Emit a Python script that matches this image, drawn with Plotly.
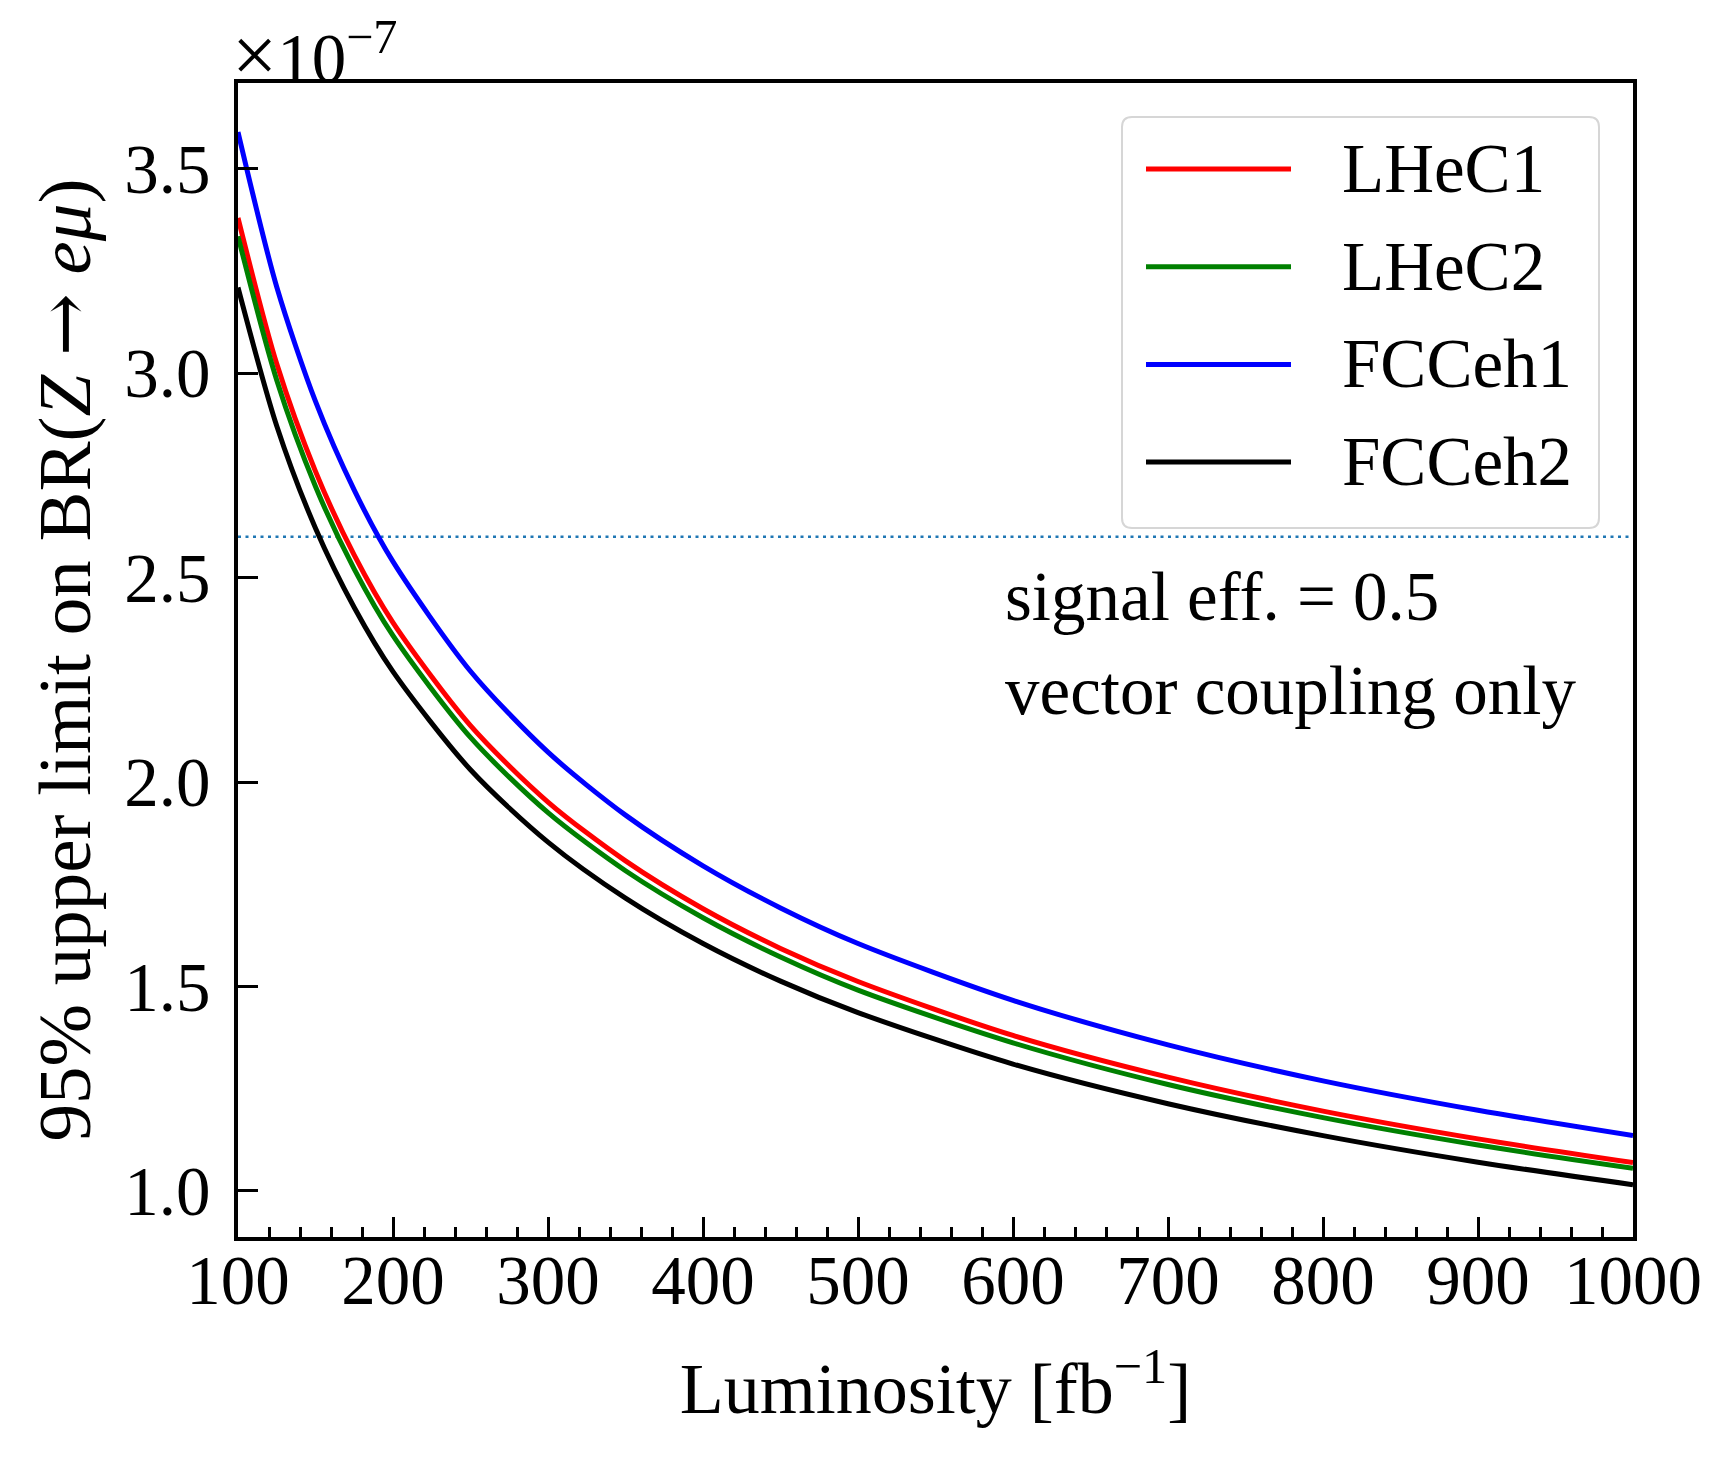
import plotly.graph_objects as go

# Luminosity points [fb^-1] and the upper limits (units of 1e-7)
luminosity = [100, 125, 150, 175, 200, 250, 300, 350, 400, 450, 500, 600, 700, 800, 900, 1000]

lhec1 = [3.380, 3.023, 2.760, 2.555, 2.390, 2.138, 1.951, 1.807, 1.690, 1.593, 1.512, 1.380, 1.278, 1.195, 1.127, 1.069]
lhec2 = [3.335, 2.983, 2.723, 2.521, 2.358, 2.109, 1.925, 1.783, 1.668, 1.572, 1.491, 1.362, 1.260, 1.179, 1.112, 1.055]
fcceh1 = [3.590, 3.211, 2.931, 2.714, 2.539, 2.271, 2.073, 1.919, 1.795, 1.692, 1.605, 1.466, 1.357, 1.269, 1.197, 1.135]
fcceh2 = [3.210, 2.871, 2.621, 2.427, 2.270, 2.030, 1.853, 1.716, 1.605, 1.513, 1.436, 1.310, 1.213, 1.135, 1.070, 1.015]

series_names = ["LHeC1", "LHeC2", "FCCeh1", "FCCeh2"]
series_values = [lhec1, lhec2, fcceh1, fcceh2]
series_colors = ["#ff0000", "#008000", "#0000ff", "#000000"]

reference_limit = 2.6  # horizontal dotted line

x_ticks = [100, 200, 300, 400, 500, 600, 700, 800, 900, 1000]
y_ticks = [1.0, 1.5, 2.0, 2.5, 3.0, 3.5]

FONT = "Liberation Serif"
FS = 69
LW = 5

# figure geometry (pixels); the page body adds an 8px margin
OFF = 8
W, H = 1726 - 2 * OFF, 1460 - 2 * OFF
L, R, T, B = 230, 85, 75, 215
PW, PH = W - L - R, H - T - B
AX_LEFT, AX_BOTTOM = OFF + L, OFF + H - B   # page position of the axes corner


def px_x(p):
    return (p - AX_LEFT) / PW


def px_y(p):
    return (AX_BOTTOM - p) / PH


fig = go.Figure()

for name, vals, col in zip(series_names, series_values, series_colors):
    fig.add_trace(go.Scatter(
        x=luminosity, y=vals,
        mode="lines",
        line=dict(color=col, width=LW, shape="spline", smoothing=0.8),
        name=name,
        showlegend=False,
    ))

# dotted reference line across the whole axis
fig.add_shape(type="line", xref="paper", yref="y",
              x0=0, x1=1, y0=reference_limit, y1=reference_limit,
              line=dict(color="#1f77b4", width=2.7, dash="3px,4.5px"), layer="below")

# --- legend box (drawn by hand to match the matplotlib look) ---
bx0, bx1, by0, by1, rad = 1122, 1599, 117, 528, 10
x0, x1 = px_x(bx0), px_x(bx1)
y0, y1 = px_y(by1), px_y(by0)
rx, ry = rad / PW, rad / PH
path = (f"M {x0 + rx},{y0} L {x1 - rx},{y0} Q {x1},{y0} {x1},{y0 + ry} "
        f"L {x1},{y1 - ry} Q {x1},{y1} {x1 - rx},{y1} "
        f"L {x0 + rx},{y1} Q {x0},{y1} {x0},{y1 - ry} "
        f"L {x0},{y0 + ry} Q {x0},{y0} {x0 + rx},{y0} Z")
fig.add_shape(type="path", xref="paper", yref="paper", path=path,
              fillcolor="rgba(255,255,255,0.8)", line=dict(color="#d6d6d6", width=2))

for i, (name, col) in enumerate(zip(series_names, series_colors)):
    row_y = 169 + i * 97.7
    fig.add_shape(type="line", xref="paper", yref="paper",
                  x0=px_x(1146), x1=px_x(1291), y0=px_y(row_y), y1=px_y(row_y),
                  line=dict(color=col, width=LW))
    fig.add_annotation(xref="paper", yref="paper", x=px_x(1340), y=px_y(row_y),
                       text=name, showarrow=False, xanchor="left", yanchor="middle",
                       font=dict(family=FONT, size=FS, color="black"))

# text box
fig.add_annotation(xref="paper", yref="paper", x=px_x(1003), y=px_y(597),
                   text="signal eff. = 0.5", showarrow=False, xanchor="left", yanchor="middle",
                   font=dict(family=FONT, size=FS, color="black"))
fig.add_annotation(xref="paper", yref="paper", x=px_x(1003), y=px_y(691),
                   text="vector coupling only", showarrow=False, xanchor="left", yanchor="middle",
                   font=dict(family=FONT, size=FS, color="black"))

# offset text of the y axis
fig.add_annotation(xref="paper", yref="paper", x=0, y=1.0,
                   text="<span style='font-size:80px'>×</span>10<sup>−7</sup>", showarrow=False,
                   xanchor="left", yanchor="bottom",
                   xshift=-8, yshift=-18,
                   font=dict(family=FONT, size=FS, color="black"))

fig.update_layout(
    width=W, height=H,
    autosize=False,
    margin=dict(l=L, r=R, t=T, b=B),
    paper_bgcolor="white",
    plot_bgcolor="white",
    showlegend=False,
    font=dict(family=FONT, size=FS, color="black"),
    xaxis=dict(
        range=[100, 1000],
        tickvals=x_ticks,
        ticks="inside", ticklen=20, tickwidth=3, tickcolor="black",
        minor=dict(dtick=20, ticks="inside", ticklen=10, tickwidth=2.5, tickcolor="black", showgrid=False),
        showline=True, linewidth=3.5, linecolor="black", mirror=True,
        showgrid=False, zeroline=False,
        ticklabelstandoff=-20,
        tickfont=dict(family=FONT, size=FS),
        title=dict(text="Luminosity [fb<sup>−1</sup>]", standoff=46,
                   font=dict(family=FONT, size=FS + 3)),
    ),
    yaxis=dict(
        range=[0.887, 3.71],
        tickvals=y_ticks,
        tickformat=".1f",
        ticks="inside", ticklen=20, tickwidth=3, tickcolor="black",
        showline=True, linewidth=3.5, linecolor="black", mirror=True,
        showgrid=False, zeroline=False,
        ticklabelstandoff=10,
        tickfont=dict(family=FONT, size=FS),
        title=dict(text="95% upper limit on BR(<i>Z</i> <span style='font-family:DejaVu Serif'>→</span> <i>eμ</i>)",
                   standoff=10, font=dict(family=FONT, size=FS + 6)),
    ),
)

fig.write_html("out.html")
